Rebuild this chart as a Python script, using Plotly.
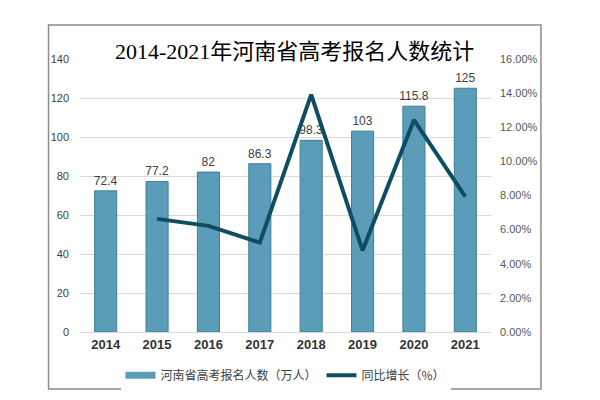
import plotly.graph_objects as go

years = ["2014", "2015", "2016", "2017", "2018", "2019", "2020", "2021"]
applicants = [72.4, 77.2, 82, 86.3, 98.3, 103, 115.8, 125]
growth_years = ["2015", "2016", "2017", "2018", "2019", "2020", "2021"]
growth = [0.0663, 0.0622, 0.0524, 0.1391, 0.0478, 0.1243, 0.0794]
left_ticks = [0, 20, 40, 60, 80, 100, 120, 140]
right_ticks = [0, 0.02, 0.04, 0.06, 0.08, 0.10, 0.12, 0.14, 0.16]

BAR_COLOR = "#5b9cb8"

fig = go.Figure()
fig.add_trace(go.Bar(
    x=years, y=applicants, name="河南省高考报名人数（万人）", showlegend=False,
    marker=dict(color=BAR_COLOR, line=dict(color="#3f7f98", width=1)),
    width=0.43,
    text=[f"{v:g}" for v in applicants], textposition="outside",
    textfont=dict(size=12, color="#404040", family="Liberation Sans, Arial"),
    cliponaxis=False, constraintext="none",
))
# legend entry for bars (wide rectangle swatch)
fig.add_trace(go.Scatter(
    x=[None], y=[None], name="河南省高考报名人数（万人）", mode="lines",
    line=dict(color=BAR_COLOR, width=7),
))
fig.add_trace(go.Scatter(
    x=growth_years, y=growth, name="同比增长（%）", yaxis="y2",
    mode="lines", line=dict(color="#0f4d62", width=4),
))

fig.update_layout(
    width=592, height=392,
    margin=dict(l=71.5, r=109, t=51, b=68, autoexpand=False),
    paper_bgcolor="white", plot_bgcolor="white",
    font=dict(family="Liberation Sans, Noto Sans CJK SC, sans-serif", color="#595959"),
    xaxis=dict(tickfont=dict(size=13, color="#333333", family="Liberation Sans", weight="bold"),
               showline=True, linecolor="#d9d9d9", ticks="", showgrid=False),
    yaxis=dict(range=[0, 140], tickvals=left_ticks, showgrid=True, gridcolor="#d9d9d9",
               gridwidth=1, zeroline=False, tickfont=dict(size=11, color="#404040"),
               ticklabelstandoff=10),
    yaxis2=dict(range=[0, 0.16], tickvals=right_ticks, tickformat=".2%", overlaying="y",
                side="right", showgrid=False, zeroline=False,
                tickfont=dict(size=11, color="#595959"), ticklabelstandoff=8),
    legend=dict(orientation="h", x=0.5, xanchor="center", y=-0.105, yanchor="top",
                font=dict(size=12, color="#404040", family="Noto Sans CJK SC"),
                traceorder="normal", itemwidth=30),
    showlegend=True,
)
fig.add_annotation(
    text="2014-2021年河南省高考报名人数统计", xref="paper", yref="paper",
    x=0.521, y=1.026, xanchor="center", yanchor="middle", showarrow=False,
    font=dict(size=22, color="black", family="Liberation Serif, Noto Sans CJK SC"),
)
fig.add_shape(type="rect", xref="paper", yref="paper",
              x0=-0.0766, x1=1.1215, y0=-0.2088, y1=1.1245,
              line=dict(color="#8c8c8c", width=1.5), fillcolor="rgba(0,0,0,0)")
fig.write_html("out.html")
